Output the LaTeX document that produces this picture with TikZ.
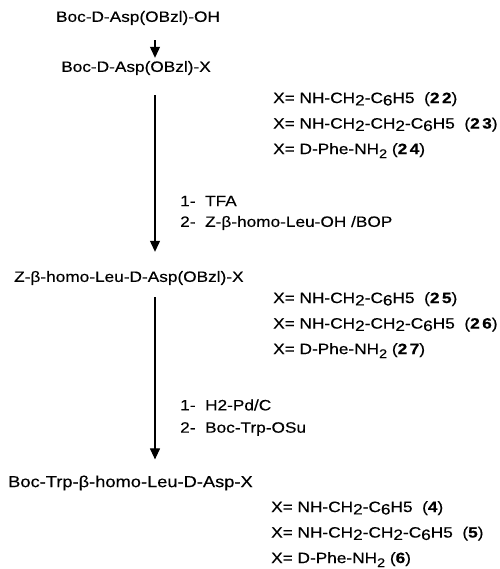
\documentclass[tikz,border=0pt]{standalone}
\usepackage{fontspec}
\setmainfont{Liberation Sans}[FakeStretch=1.15,FakeBold=0.4]
\usetikzlibrary{arrows.meta,positioning}

\newcommand{\lw}[1]{\raisebox{-0.3ex}{#1}}
\newcommand{\sbs}[1]{\raisebox{-0.5ex}{\fontsize{12.5}{12}\selectfont #1}}

\begin{document}
\begin{tikzpicture}[x=1pt,y=-1pt]
	\tikzset{cmpd/.style={inner sep=0pt,font=\fontsize{15}{18}\selectfont},
		xlist/.style={inner sep=0pt,anchor=north west,align=left,
			font=\fontsize{15}{25.5}\selectfont},
		cond/.style={inner sep=0pt,anchor=west,font=\fontsize{15}{18}\selectfont},
		rxn/.style={-{Triangle[width=10pt,length=11pt]},line width=1.2pt}}
	\useasboundingbox (0,0) rectangle (499,569);

	%% compounds
	\node[cmpd] (a1) at (138,18) {Boc-D-Asp(OBzl)-OH};
	\node[cmpd] (a2) at (136,68) {Boc-D-Asp(OBzl)-X};
	\node[cmpd,anchor=west] (a3) at (14,278) {Z-β-homo-Leu-D-Asp(OBzl)-X};
	\node[cmpd,anchor=west,font=\fontsize{15.9}{18}\selectfont] (a4) at (8,483) {Boc-Trp-β-homo-Leu-D-Asp-X};

	%% X groups
	\node[xlist] (x1) at (273,92) {X= NH-CH\lw{2}-C\lw{6}H5\ \ (\textbf{2\,2})\\
		X= NH-CH\lw{2}-CH\lw{2}-C\lw{6}H5\ \ (\textbf{2\,3})\\
		X= D-Phe-NH\sbs{2} (\textbf{2\,4})};
	\node[xlist] (x2) at (273,292) {X= NH-CH\lw{2}-C\lw{6}H5\ \ (\textbf{2\,5})\\
		X= NH-CH\lw{2}-CH\lw{2}-C\lw{6}H5\ \ (\textbf{2\,6})\\
		X= D-Phe-NH\sbs{2} (\textbf{2\,7})};
	\node[xlist] (x3) at (271,501) {X= NH-CH\lw{2}-C\lw{6}H5\ \ (\textbf{4})\\
		X= NH-CH\lw{2}-CH\lw{2}-C\lw{6}H5\ \ (\textbf{5})\\
		X= D-Phe-NH\sbs{2} (\textbf{6})};

	%% conditions
	\node[cond] (c1) at (180,201) {1-\ \ TFA};
	\node[cond] (c2) at (180,223) {2-\ \ Z-β-homo-Leu-OH /BOP};
	\node[cond] (c3) at (180,405) {1-\ \ H2-Pd/C};
	\node[cond] (c4) at (180,429) {2-\ \ Boc-Trp-OSu};

	%% arrows
	\coordinate (ax) at (155,0);
	\draw[rxn,shorten <=15pt,shorten >=3pt] (a1.south -| ax) -- (a2.north -| ax);
	\draw[rxn,shorten <=20pt,shorten >=19pt] (a2.south -| ax) -- (a3.north -| ax);
	\draw[rxn,shorten <=12pt,shorten >=16pt] (a3.south -| ax) -- (a4.north -| ax);
\end{tikzpicture}
\end{document}
